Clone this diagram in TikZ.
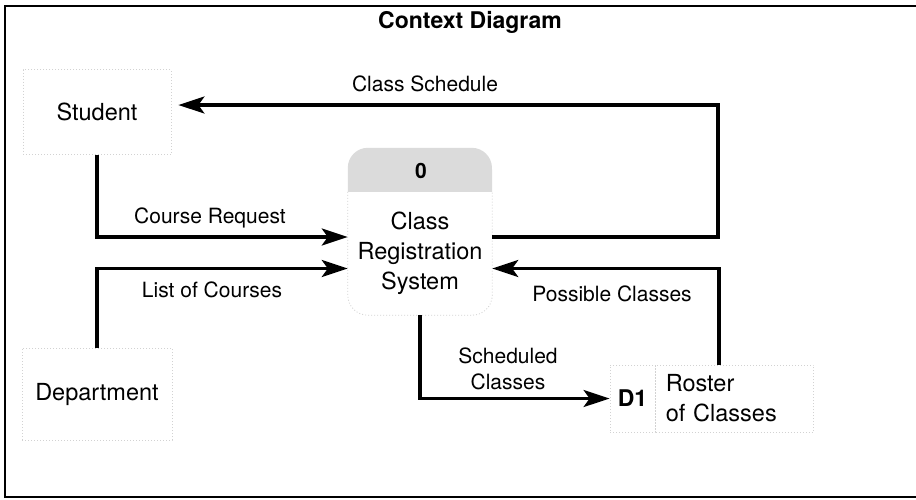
\documentclass[tikz,border=0pt]{standalone}
\usepackage{fontspec}
\setmainfont{TeX Gyre Heros}
\usetikzlibrary{arrows.meta}
\begin{document}
\begin{tikzpicture}[x=1pt,y=-1pt,
  flow/.style={line width=3.4pt, line join=miter, -{Stealth[length=26pt,width=17pt,inset=6pt]}},
  ent/.style={font=\fontsize{23.5}{28}\selectfont, inner sep=0pt},
  lbl/.style={font=\fontsize{21}{26}\selectfont, inner sep=0pt, align=center},
  faint/.style={draw=gray!35, dash pattern=on 1pt off 2pt, line width=0.8pt},
]
\useasboundingbox (0,0) rectangle (916,499);
\draw[line width=1.6pt] (916,6) -- (5,6) -- (5,497) -- (916,497);

\node[font=\bfseries\fontsize{23}{28}\selectfont, inner sep=0pt] (title) at (470,22) {Context Diagram};

% external entities
\node[ent, faint, minimum width=148pt, minimum height=85pt] (student) at (97,112) {Student};
\node[ent, faint, minimum width=150pt, minimum height=92pt] (dept) at (97,394) {Department};

% process
\node[ent, minimum width=144pt, minimum height=123pt, align=center,
      font=\fontsize{23.5}{30}\selectfont] (sys) at (420,253.5) {Class\\Registration\\System};
\fill[gray!28] (sys.north west) [rounded corners=20pt] -- ++(0,-44) -- ++(144,0) [sharp corners] -- (sys.north east) -- cycle;
\draw[faint] (sys.north west) [rounded corners=20pt] -- (sys.south west) -- (sys.south east) [sharp corners] -- (sys.north east);
\node[font=\bfseries\fontsize{21}{26}\selectfont, inner sep=0pt] (num) at (421,171) {0};

% data store
\node[faint, minimum width=45pt, minimum height=67pt, inner sep=0pt,
      font=\bfseries\fontsize{23}{28}\selectfont] (d1) at (632.5,398.5) {D1};
\node[faint, anchor=west, minimum height=67pt, text width=138pt, inner xsep=10pt, inner ysep=0pt,
      align=left, font=\fontsize{23.5}{30}\selectfont] (roster) at (d1.east) {Roster\\of Classes};

% flows
\coordinate (csc) at (718,105);
\draw[flow] ([yshift=16.5pt]sys.east) -| (csc) -- ([xshift=7pt]student.east |- csc);
\draw[flow] (student.south) |- ([yshift=16.5pt]sys.west);
\draw[flow] (dept.north) |- ([yshift=-15pt]sys.west);
\draw[flow] (sys.south) |- (d1.west);
\draw[flow] ([xshift=-16pt]roster.north) |- ([yshift=-15pt]sys.east);

% labels
\node[lbl] (lcs) at (425,84) {Class Schedule};
\node[lbl] (lcr) at (210,218) {Course Request};
\node[lbl] (llc) at (212,290) {List of Courses};
\node[lbl] (lpc) at (612,294) {Possible Classes};
\node[lbl] (lsc) at (508,369) {Scheduled\\Classes};
\end{tikzpicture}
\end{document}
